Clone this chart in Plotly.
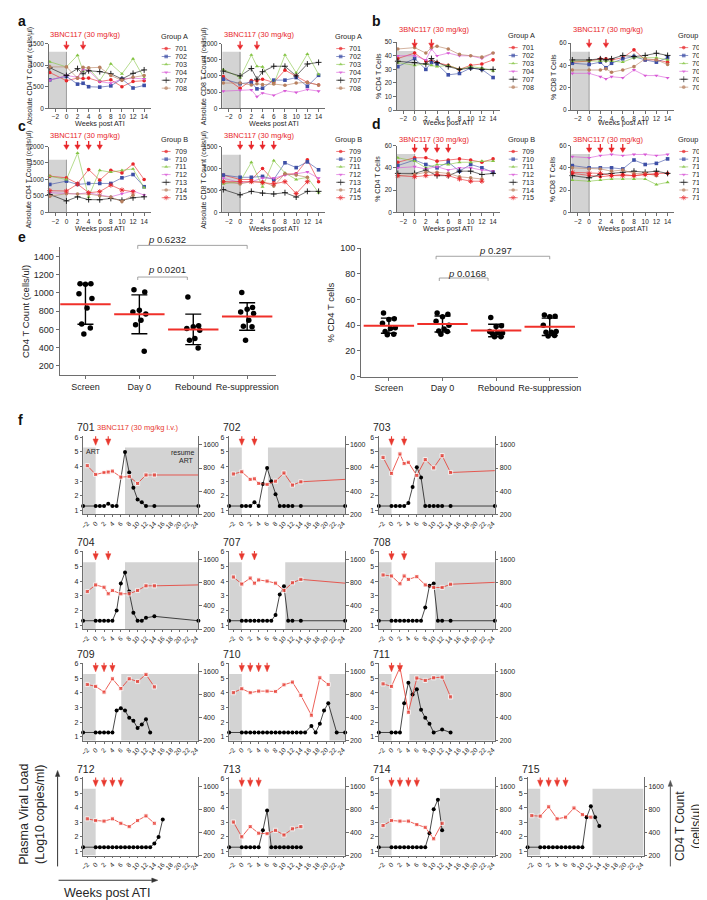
import math
import statistics
import plotly.graph_objects as go

W, H = 707, 900
FONT = "Arial, 'Liberation Sans', Helvetica, sans-serif"
RED = "#e8262a"
FRED = "#e8392f"
GRAY_FILL = "#d3d3d3"
AXC = "#6e6e6e"
TXT = "#262626"

# ---------------- data: panels a-d ----------------
WEEKS_A = [-3, 0, 2, 3, 4, 6, 8, 10, 12, 14]
WEEKS_B = [-3, 0, 2, 4, 6, 8, 10, 12, 14]
GROUP_A = ["701", "702", "703", "704", "707", "708"]
GROUP_B = ["709", "710", "711", "712", "713", "714", "715"]
DOSE_A = [0, 3]
DOSE_B = [0, 2, 4, 6]
TICKS_WEEKS = [-2, 0, 2, 4, 6, 8, 10, 12, 14]

CD4_ABS_A = {
    "701": [830, 640, 700, 690, 700, 620, 660, 500, 620, 640],
    "702": [660, 740, 560, 580, 500, 490, 520, 680, 470, 530],
    "703": [1080, 960, 1230, 870, 930, 640, 1030, 800, 1150, 700],
    "704": [650, 760, 720, 900, 880, 620, 580, 680, 700, 680],
    "707": [940, 760, 920, 800, 870, 850, 800, 680, 810, 890],
    "708": [960, 960, 700, 950, 940, 950, 760, 650, 720, 760],
}
CD8_ABS_A = {
    "701": [980, 620, 860, 850, 900, 800, 1180, 1000, 800, 720],
    "702": [900, 760, 800, 600, 620, 870, 870, 950, 680, 1020],
    "703": [1200, 950, 1650, 1300, 1280, 750, 1650, 1100, 1680, 1050],
    "704": [530, 560, 570, 360, 470, 400, 540, 490, 580, 530],
    "707": [1150, 1000, 1230, 900, 1130, 1300, 1300, 1000, 1370, 1420],
    "708": [780, 780, 720, 760, 730, 750, 710, 780, 800, 720],
}
PCT_CD4_A = {
    "701": [38, 42, 36, 36, 35, 33, 30, 33, 34, 37],
    "702": [32, 38, 30, 35, 34, 26, 27, 31, 30, 24],
    "703": [35, 33, 34, 33, 32, 33, 30, 32, 31, 29],
    "704": [40, 40, 37, 45, 40, 42, 40, 40, 38, 42],
    "707": [36, 35, 34, 38, 35, 32, 30, 31, 30, 30],
    "708": [45, 46, 42, 46, 47, 45, 41, 40, 39, 42],
}
PCT_CD8_A = {
    "701": [43, 44, 46, 46, 45, 47, 54, 45, 45, 43],
    "702": [42, 41, 43, 38, 42, 46, 48, 45, 43, 47],
    "703": [44, 44, 44, 44, 44, 43, 47, 47, 47, 45],
    "704": [33, 33, 30, 28, 30, 29, 36, 31, 31, 29],
    "707": [45, 45, 46, 45, 46, 49, 48, 49, 51, 49],
    "708": [36, 36, 36, 37, 34, 36, 39, 46, 45, 41],
}
CD4_ABS_B = {
    "709": [1100, 1050, 880, 1300, 980, 1280, 1200, 1470, 1000],
    "710": [850, 950, 850, 880, 880, 880, 1050, 1150, 780],
    "711": [1100, 1000, 1800, 470, 1280, 1220, 1280, 1320, 750],
    "712": [600, 570, 560, 600, 525, 475, 570, 655, 525],
    "713": [545, 350, 475, 390, 385, 425, 370, 445, 475],
    "714": [490, 570, 560, 560, 505, 465, 330, 525, None],
    "715": [660, 650, 860, 600, 630, 830, 680, 630, None],
}
CD8_ABS_B = {
    "709": [850, 750, 750, 1000, 720, 870, 880, 1200, 700],
    "710": [850, 800, 800, 820, 750, 1130, 1020, 1150, 970],
    "711": [650, 700, 1140, 580, 1180, 900, 750, 800, 450],
    "712": [780, 680, 700, 780, 780, 850, 880, 920, 780],
    "713": [520, 400, 480, 440, 420, 450, 350, 480, 480],
    "714": [700, 650, 700, 700, 600, 880, 850, 800, None],
    "715": [700, 700, 700, 680, 650, 700, 430, 700, None],
}
PCT_CD4_B = {
    "709": [45, 49, 49, 46, 47, 48, 47, 45, 48],
    "710": [42, 47, 43, 40, 45, 37, 43, 40, 36],
    "711": [49, 46, 40, 43, 43, 45, 45, 46, 46],
    "712": [40, 41, 39, 41, 38, 40, 40, 38, 37],
    "713": [35, 35, 38, 33, 33, 37, 37, 34, 35],
    "714": [33, 34, 36, 36, 35, 32, 31, 30, None],
    "715": [33, 32, 33, 34, 33, 30, 28, 28, None],
}
PCT_CD8_B = {
    "709": [35, 33, 32, 33, 34, 33, 34, 35, 35],
    "710": [42, 40, 40, 40, 39, 47, 43, 44, 48],
    "711": [29, 28, 29, 30, 30, 30, 30, 25, 27],
    "712": [50, 49, 51, 52, 51, 52, 52, 51, 52],
    "713": [33, 31, 34, 35, 36, 37, 36, 37, 35],
    "714": [40, 39, 39, 37, 38, 35, 35, 33, None],
    "715": [36, 35, 35, 33, 33, 33, 34, 34, None],
}

# ---------------- data: panel e ----------------
E_CATS = ["Screen", "Day 0", "Rebound", "Re-suppression"]
E_CD4_ABS = {
    "Screen": [1100, 1100, 1095, 990, 940, 835, 660, 615, 550],
    "Day 0": [1035, 1010, 810, 790, 770, 700, 650, 360],
    "Rebound": [955, 640, 630, 610, 590, 500, 480, 395],
    "Re-suppression": [1005, 840, 820, 790, 775, 700, 635, 630, 480],
}
E_CD4_PCT = {
    "Screen": [49.5, 45, 44.5, 41.5, 38, 37.5, 35, 33, 32.5],
    "Day 0": [49.5, 48.5, 46.5, 43, 40, 37, 35.5, 35, 33],
    "Rebound": [46, 39.5, 39, 35, 34, 34, 33.5, 31, 31],
    "Re-suppression": [48, 47, 46.5, 40, 35, 34.5, 34.5, 32, 31.5],
}
E_P_LEFT = ["0.6232", "0.0201"]
E_P_RIGHT = ["0.297", "0.0168"]

# ---------------- data: panel f ----------------
F_ORDER = ["701", "702", "703", "704", "707", "708", "709", "710", "711",
           "712", "713", "714", "715"]
F_VL_WEEKS = {
    "701": [-3, 0, 1, 2, 3, 4, 5, 7, 8, 9, 10, 11, 12, 14, 24.5],
    "702": [-3, 0, 1, 2, 3, 4, 5, 6, 7, 8, 9, 10, 11, 12, 14, 24.5],
    "703": [-3, 0, 1, 2, 3, 4, 5, 6, 7, 8, 9, 10, 11, 12, 14, 24.5],
    "704": [-3, 0, 1, 2, 3, 4, 5, 6, 7, 8, 9, 10, 11, 12, 14, 24.5],
    "707": [-3, 0, 1, 2, 3, 4, 5, 6, 7, 8, 9, 10, 11, 12, 14, 24.5],
    "708": [-3, 0, 1, 2, 3, 4, 5, 6, 7, 8, 9, 10, 11, 12, 14, 24.5],
    "709": [-3, 0, 1, 2, 3, 4, 5, 6, 7, 8, 9, 10, 11, 12, 13],
    "710": [-3, 0, 1, 2, 3, 4, 5, 6, 7, 8, 9, 10, 11, 12, 13, 14, 15,
            16.5, 17.5, 18.5, 19.5, 20.5, 22.5, 24.5],
    "711": [-3, 0, 1, 2, 3, 4, 5, 6, 7, 8, 9, 10, 12, 14],
    "712": [-3, 0, 1, 2, 3, 4, 5, 6, 7, 8, 9, 10, 11, 12, 13, 14, 15, 16],
    "713": [-3, 0, 1, 2, 3, 4, 5, 6, 7, 8, 9, 10, 11, 12, 13, 14],
    "714": [-3, 0, 1, 2, 3, 4, 5, 6, 7, 8, 9, 10, 11, 12],
    "715": [-3, 0, 1, 2, 3, 4, 5, 6, 7, 8, 9, 10, 11, 12, 13, 14],
}
F_VL = {
    "701": [1.3, 1.3, 1.3, 1.3, 1.45, 1.3, 1.3, 5.0, 3.6, 2.55, 1.75, 1.55, 1.3, 1.3, 1.3],
    "702": [1.3, 1.3, 1.3, 1.3, 1.55, 1.3, 2.8, 3.9, 3.0, 2.1, 1.3, 1.3, 1.3, 1.3, 1.3, 1.3],
    "703": [1.3, 1.3, 1.3, 1.3, 1.3, 1.5, 2.6, 3.95, 3.25, 1.3, 1.3, 1.3, 1.3, 1.3, 1.3, 1.3],
    "704": [1.3, 1.3, 1.3, 1.3, 1.3, 1.3, 2.0, 3.85, 4.6, 3.3, 1.85, 1.3, 1.3, 1.5, 1.6, 1.3],
    "707": [1.3, 1.3, 1.3, 1.3, 1.3, 1.3, 1.3, 1.3, 1.3, 1.7, 3.1, 3.65, 1.3, 1.3, 1.3, 1.3],
    "708": [1.3, 1.3, 1.3, 1.3, 1.3, 1.3, 1.3, 1.3, 1.3, 2.2, 3.7, 3.85, 1.3, 1.3, 1.3, 1.3],
    "709": [1.3, 1.3, 1.3, 1.3, 1.3, 1.3, 2.8, 2.95, 2.8, 2.3, 2.1, 1.6, 1.85, 2.2, 1.3],
    "710": [1.3, 1.3, 1.3, 1.3, 1.3, 1.3, 1.3, 1.3, 1.3, 1.3, 1.3, 1.3, 1.3, 1.3, 1.3, 1.3, 1.3,
            1.75, 1.3, 1.9, 2.8, 3.3, 1.3, 1.3],
    "711": [1.3, 1.3, 1.3, 1.3, 3.3, 4.7, 3.9, 4.25, 2.85, 2.3, 1.9, 1.3, 1.5, 1.3],
    "712": [1.3, 1.3, 1.3, 1.3, 1.3, 1.3, 1.3, 1.3, 1.3, 1.3, 1.3, 1.3, 1.3, 1.3, 1.3,
            1.55, 2.0, 3.2],
    "713": [1.3, 1.3, 1.3, 1.3, 1.3, 1.3, 2.45, 3.8, 1.3, 1.3, 1.3, 1.3, 1.3, 1.3, 1.3, 1.3],
    "714": [1.3, 1.3, 1.3, 1.3, 1.3, 1.3, 1.3, 1.3, 1.3, 1.3, 2.25, 3.9, 4.55, 2.45],
    "715": [1.3, 1.3, 1.3, 1.3, 1.3, 1.3, 1.3, 1.3, 1.3, 1.3, 1.3, 1.3, 3.35, 4.1, 3.35, 2.75],
}
F_CD4_WEEKS = {
    "701": [-2, 0, 2, 3, 4, 6, 8, 10, 12, 14, 24.5],
    "702": [-2, 0, 2, 3, 4, 6, 8, 10, 12, 14, 24.5],
    "703": [-2, 0, 2, 3, 4, 6, 8, 10, 12, 14, 24.5],
    "704": [-2, 0, 2, 3, 4, 6, 8, 10, 12, 14, 24.5],
    "707": [-2, 0, 2, 3, 4, 6, 8, 10, 12, 14, 24.5],
    "708": [-2, 0, 2, 3, 4, 6, 8, 10, 12, 14, 24.5],
    "709": [-2, 0, 2, 4, 6, 8, 10, 12, 14],
    "710": [-2, 0, 2, 4, 6, 8, 10, 12, 14, 16.5, 18.5, 20.5],
    "711": [-2, 0, 2, 4, 6, 8, 10, 12, 14],
    "712": [-2, 0, 2, 4, 6, 8, 10, 12, 14],
    "713": [-2, 0, 2, 4, 6, 8, 10, 12, 14],
    "714": [-2, 0, 2, 4, 6, 8, 10, 12],
    "715": [-2, 0, 2, 4, 6, 8, 10, 12],
}
F_CD4 = {
    "701": [860, 660, 700, 710, 730, 610, 620, 505, 650, 650, 650],
    "702": [670, 715, 570, 580, 505, 490, 540, 690, 480, 530, 570],
    "703": [1100, 680, 1220, 915, 950, 640, 1030, 805, 1160, 700, 740],
    "704": [615, 750, 700, 575, 635, 575, 575, 635, 730, 730, 750],
    "707": [950, 770, 920, 790, 870, 840, 790, 635, 800, 885, 790],
    "708": [1010, 980, 775, 980, 885, 960, 750, 695, 695, 765, 810],
    "709": [1080, 1020, 860, 1280, 955, 1280, 1180, 1460, 1005],
    "710": [845, 950, 845, 885, 885, 875, 1070, 1160, 780, 430, 1320, 1080],
    "711": [1100, 1020, 1800, 470, 1310, 1220, 1320, 1345, 745],
    "712": [600, 570, 560, 600, 525, 475, 570, 655, 525],
    "713": [545, 350, 475, 390, 385, 425, 370, 445, 475],
    "714": [490, 570, 560, 560, 505, 465, 330, 525],
    "715": [660, 650, 860, 600, 630, 830, 680, 630],
}
F_DOSES = {
    "701": [0, 3], "702": [0, 3], "703": [0, 3], "704": [0, 3], "707": [0, 3], "708": [0, 3],
    "709": [0, 2, 4], "710": [0, 2, 4, 6], "711": [0, 2], "712": [0, 2, 4, 6],
    "713": [0, 2, 4], "714": [0, 2, 4, 6], "715": [0, 2, 4, 6],
}
F_RESUME = {
    "701": 7.0, "702": 6.2, "703": 6.1, "704": 7.0, "707": 10.3, "708": 10.3,
    "709": 6.1, "710": 20.8, "711": 4.25, "712": None, "713": 6.3, "714": 11.5, "715": 12.4,
}
F_X_TICKS = list(range(-2, 25, 2))
F_VL_TICKS = [1, 2, 3, 4, 5, 6]
F_CD4_TICKS = [200, 400, 800, 1600]

# ---------------- styles ----------------
STYLE = {
    "701": (RED, "circle"), "702": ("#3d4fa6", "square"), "703": ("#84c443", "triangle-up"),
    "704": ("#d858d6", "triangle-down"), "707": ("#111111", "cross-thin"), "708": ("#b7805f", "circle"),
    "709": (RED, "circle"), "710": ("#3d4fa6", "square"), "711": ("#84c443", "triangle-up"),
    "712": ("#d858d6", "triangle-down"), "713": ("#111111", "cross-thin"), "714": ("#b7805f", "circle"),
    "715": (RED, "asterisk"),
}
THIN = {"cross-thin", "asterisk"}

layout = dict(width=W, height=H, margin=dict(l=0, r=0, t=0, b=0, pad=0),
              paper_bgcolor="white", plot_bgcolor="rgba(0,0,0,0)", showlegend=False,
              font=dict(family=FONT, color=TXT, size=8))
traces, shapes, annots = [], [], []
counter = {"x": 0, "y": 0}


def px_x(p):
    return p / W


def px_y(p):
    return 1 - p / H


def ref(kind, n):
    return kind if n == 1 else f"{kind}{n}"


def new_axis(kind, props):
    counter[kind] += 1
    n = counter[kind]
    layout[f"{kind}axis" + ("" if n == 1 else str(n))] = props
    return ref(kind, n)


def make_pair(xprops, yprops):
    xr = ref("x", counter["x"] + 1)
    yr = ref("y", counter["y"] + 1)
    xprops["anchor"] = yr
    yprops["anchor"] = xr
    new_axis("x", xprops)
    new_axis("y", yprops)
    return xr, yr


def axis_style(size=6.5, **kw):
    d = dict(showgrid=False, zeroline=False, showline=True, linecolor=AXC, linewidth=0.8,
             ticks="outside", ticklen=2.5, tickwidth=0.8, tickcolor=AXC,
             tickfont=dict(size=size, family=FONT, color=TXT), fixedrange=True,
             layer="above traces")
    d.update(kw)
    return d


def text(t, x, y, size=8, color=TXT, xanchor="center", yanchor="middle", angle=0):
    annots.append(dict(text=t, x=px_x(x), y=px_y(y), xref="paper", yref="paper",
                       showarrow=False, xanchor=xanchor, yanchor=yanchor, textangle=angle,
                       borderpad=0, font=dict(size=size, color=color, family=FONT)))


def down_arrow(xref, yref, x, y_tail, y_base, y_tip, half_w, color, width=1.2):
    shapes.append(dict(type="line", xref=xref, yref=yref, x0=x, x1=x, y0=y_tail, y1=y_base,
                       line=dict(color=color, width=width)))
    shapes.append(dict(type="path", xref=xref, yref=yref,
                       path=f"M {x - half_w},{y_base} L {x + half_w},{y_base} L {x},{y_tip} Z",
                       fillcolor=color, line=dict(color=color, width=0.5)))


def marker_for(sid, size=3.6):
    col, sym = STYLE[sid]
    return dict(color=col, symbol=sym, size=size + (0.6 if sym in THIN else 0),
                line=dict(color=col, width=0.9 if sym in THIN else 0))


legend_glyphs = []  # (x, y, sid) in pixel space


def ts_panel(xdom, ydom, yrange, ydtick, weeks, data, ids, doses, gray_frac,
             label_y, tip_y, ytitle, ytitle_x, xtitle_y, leg_title, leg_x, leg_title_y,
             leg_y0, leg_dy):
    xr, yr = make_pair(
        axis_style(domain=[px_x(xdom[0]), px_x(xdom[1])], range=[-3.2, 15.2],
                   tickvals=TICKS_WEEKS),
        axis_style(domain=[px_y(ydom[1]), px_y(ydom[0])], range=list(yrange),
                   tick0=0, dtick=ydtick))
    shapes.append(dict(type="rect", xref=xr, yref=yr + " domain", x0=-3.2, x1=0, y0=0,
                       y1=gray_frac, fillcolor=GRAY_FILL, line=dict(width=0), layer="below"))
    shapes.append(dict(type="line", xref=xr, yref=yr + " domain", x0=0, x1=0, y0=0,
                       y1=gray_frac, line=dict(color="#8a8a8a", width=0.8), layer="below"))
    for sid in ids:
        col, sym = STYLE[sid]
        traces.append(go.Scatter(x=weeks, y=data[sid], xaxis=xr, yaxis=yr,
                                 mode="lines+markers", line=dict(color=col, width=0.6),
                                 marker=marker_for(sid), cliponaxis=False, hoverinfo="skip"))
    # dosing
    annots.append(dict(text="3BNC117 (30 mg/kg)", x=3.4, xref=xr, y=px_y(label_y), yref="paper",
                       xanchor="center", yanchor="middle", showarrow=False, borderpad=0,
                       font=dict(size=7.5, color=RED, family=FONT)))
    ppw = (xdom[1] - xdom[0]) / 18.4
    for d in doses:
        down_arrow(xr, "paper", d, px_y(tip_y - 8.5), px_y(tip_y - 4.5), px_y(tip_y),
                   2.7 / ppw, RED, 1.3)
    text(ytitle, ytitle_x, (ydom[0] + ydom[1]) / 2, size=7, angle=-90)
    text("Weeks post ATI", (xdom[0] + xdom[1]) / 2, xtitle_y, size=7.2)
    # legend
    text(leg_title, leg_x, leg_title_y, size=7.3, xanchor="left")
    for i, sid in enumerate(ids):
        yy = leg_y0 + i * leg_dy
        legend_glyphs.append((leg_x + 6.5, yy, sid))
        text(sid, leg_x + 14, yy, size=7.2, xanchor="left")


# ---- panels a & b (group A) ----
ts_panel((38, 141), (31, 96.3), (0, 1500), 500, WEEKS_A, CD4_ABS_A, GROUP_A, DOSE_A, 0.873,
         22, 37, "Absolute CD4 T Count (cells/µl)", 19, 112, "Group A", 150, 24, 36, 8)
ts_panel((213, 317), (31, 96.3), (0, 2000), 500, WEEKS_A, CD8_ABS_A, GROUP_A, DOSE_A, 0.873,
         22, 37, "Absolute CD8 T Count (cells/µl)", 195, 112, "Group A", 326, 24, 36, 8)
ts_panel((389, 493), (29.5, 98.3), (0, 50), 10, WEEKS_A, PCT_CD4_A, GROUP_A, DOSE_A, 0.872,
         17, 35, "% CD4 T Cells", 370, 110.5, "Group A", 500, 23, 35, 8)
ts_panel((565, 669), (30.5, 98.3), (0, 60), 20, WEEKS_A, PCT_CD8_A, GROUP_A, DOSE_A, 0.872,
         17, 35, "% CD8 T Cells", 547, 110.5, "Group A", 672, 23, 35, 8)
# ---- panels c & d (group B) ----
ts_panel((38, 141), (135, 201.7), (0, 2000), 500, WEEKS_B, CD4_ABS_B, GROUP_B, DOSE_B, 0.80,
         124, 138, "Absolute CD4 T Count (cells/µl)", 19, 218, "Group B", 150, 128, 140, 7.8)
ts_panel((213, 317), (135, 201.7), (0, 1500), 500, WEEKS_B, CD8_ABS_B, GROUP_B, DOSE_B, 0.875,
         124, 138, "Absolute CD8 T Count (cells/µl)", 195, 218, "Group B", 326, 128, 140, 7.8)
ts_panel((389, 493), (134, 201.7), (0, 60), 20, WEEKS_B, PCT_CD4_B, GROUP_B, DOSE_B, 0.875,
         127.5, 141, "% CD4 T Cells", 370, 218, "Group B", 500, 128, 140, 7.8)
ts_panel((565, 669), (134, 201.7), (0, 60), 20, WEEKS_B, PCT_CD8_B, GROUP_B, DOSE_B, 0.875,
         127.5, 141, "% CD8 T Cells", 547, 218, "Group B", 672, 128, 140, 7.8)

# ---------------- panel e ----------------
JITTER = [-0.1, 0.1, 0.0, -0.12, 0.12, 0.03, -0.07, 0.09, -0.03]


def dot_panel(xdom, ydom, xrange, yrange, ytickvals, data, ytitle, ytitle_x):
    xr, yr = make_pair(
        axis_style(size=9, domain=[px_x(xdom[0]), px_x(xdom[1])], range=list(xrange),
                   tickvals=[0, 1, 2, 3], ticktext=E_CATS, ticklen=3),
        axis_style(size=9, domain=[px_y(ydom[1]), px_y(ydom[0])], range=list(yrange),
                   tickvals=ytickvals, ticklen=3))
    for i, cat in enumerate(E_CATS):
        vals = data[cat]
        xs = [i + JITTER[k % len(JITTER)] for k in range(len(vals))]
        traces.append(go.Scatter(x=xs, y=vals, xaxis=xr, yaxis=yr, mode="markers",
                                 marker=dict(color="black", size=5.5), cliponaxis=False,
                                 hoverinfo="skip"))
        m = statistics.mean(vals)
        sd = statistics.stdev(vals)
        traces.append(go.Scatter(x=[i], y=[m], xaxis=xr, yaxis=yr, mode="markers",
                                 marker=dict(size=0.1, color="black"),
                                 error_y=dict(type="data", array=[sd], visible=True,
                                              color="black", thickness=1.4, width=8),
                                 hoverinfo="skip"))
        traces.append(go.Scatter(x=[i], y=[m], xaxis=xr, yaxis=yr, mode="markers",
                                 marker=dict(symbol="line-ew", size=36,
                                             line=dict(color="#f0302a", width=2)),
                                 hoverinfo="skip"))
    text(ytitle, ytitle_x, (ydom[0] + ydom[1]) / 2, size=9.5, angle=-90)
    return xr


def bracket(xr, x0, x1, y, drop):
    shapes.append(dict(type="path", xref=xr, yref="paper",
                       path=f"M {x0},{px_y(y + drop)} L {x0},{px_y(y)} L {x1},{px_y(y)} L {x1},{px_y(y + drop)}",
                       line=dict(color="#8c8c8c", width=0.8)))


xe1 = dot_panel((49, 267), (237, 366), (-0.48, 3.53), (100, 1500), list(range(200, 1401, 200)),
                E_CD4_ABS, "CD4 T Count (cells/ul)", 14)
bracket(xe1, 0.97, 3.0, 235, 3.5)
bracket(xe1, 0.97, 1.89, 267, 3)
text("<i>p</i> " + E_P_LEFT[0], 157, 229, size=9.5)
text("<i>p</i> " + E_P_LEFT[1], 157, 259, size=9.5)

xe2 = dot_panel((353, 572), (237.7, 367.7), (-0.52, 3.53), (0, 100), list(range(0, 101, 20)),
                E_CD4_PCT, "% CD4 T cells", 322)
bracket(xe2, 0.88, 3.0, 246, 3)
bracket(xe2, 0.94, 1.85, 268, 3)
text("<i>p</i> " + E_P_RIGHT[0], 489, 240, size=9.5)
text("<i>p</i> " + E_P_RIGHT[1], 460, 263, size=9.5)

# ---------------- panel f ----------------
F_COLS = [(72.7, 189), (220, 337), (371, 488), (521, 638)]
F_ROWS = [507, 623, 736, 852]
F_POS = {"701": (0, 0), "702": (0, 1), "703": (0, 2), "704": (1, 0), "707": (1, 1),
         "708": (1, 2), "709": (2, 0), "710": (2, 1), "711": (2, 2), "712": (3, 0),
         "713": (3, 1), "714": (3, 2), "715": (3, 3)}
PLOT_H = 79
VL_RANGE = [0.73, 6.07]
CD4_LOG_RANGE = [math.log10(200), math.log10(200) + PLOT_H / 77.8]
XMAX = 24.5

for sid in F_ORDER:
    r, c = F_POS[sid]
    c0, c1 = F_COLS[c]
    bot = F_ROWS[r]
    top = bot - PLOT_H
    xr, yr = make_pair(
        axis_style(size=6.5, domain=[px_x(c0), px_x(c1)], range=[-3, XMAX],
                   tickvals=F_X_TICKS, tickangle=-45, ticklen=2),
        axis_style(size=7, domain=[px_y(bot), px_y(top)], range=VL_RANGE,
                   tickvals=F_VL_TICKS, ticklen=2.5))
    yr2 = new_axis("y", axis_style(size=7, overlaying=yr, side="right", anchor=xr, type="log",
                                   range=CD4_LOG_RANGE, tickvals=F_CD4_TICKS, ticklen=2.5))
    shapes.append(dict(type="rect", xref=xr, yref=yr, x0=-3, x1=0, y0=VL_RANGE[0], y1=5.3,
                       fillcolor=GRAY_FILL, line=dict(width=0), layer="below"))
    if F_RESUME[sid] is not None:
        shapes.append(dict(type="rect", xref=xr, yref=yr, x0=F_RESUME[sid], x1=XMAX,
                           y0=VL_RANGE[0], y1=5.3, fillcolor=GRAY_FILL, line=dict(width=0),
                           layer="below"))
    vl_w, vl = F_VL_WEEKS[sid], F_VL[sid]
    traces.append(go.Scatter(x=vl_w, y=vl, xaxis=xr, yaxis=yr, mode="lines+markers",
                             line=dict(color="#1a1a1a", width=0.8),
                             marker=dict(color="black", size=4), cliponaxis=False,
                             hoverinfo="skip"))
    cw, cv = F_CD4_WEEKS[sid], F_CD4[sid]
    sizes = [4.2 if w < XMAX else 0 for w in cw]
    traces.append(go.Scatter(x=cw, y=cv, xaxis=xr, yaxis=yr2, mode="lines+markers",
                             line=dict(color=FRED, width=0.8),
                             marker=dict(color=FRED, size=sizes, symbol="square"),
                             cliponaxis=False, hoverinfo="skip"))
    for d in F_DOSES[sid]:
        down_arrow(xr, yr, d, 6.42, 5.88, 5.45, 0.62, FRED, 1.1)
    text(sid, c0 - 7, top - 9, size=10.5, xanchor="left")

text("3BNC117 (30 mg/kg i.v.)", 86, 419, size=7.5, color=FRED, xanchor="left")
text("ART", 75, 443, size=7, xanchor="left")
text("resume", 186, 444, size=7, xanchor="right")
text("ART", 186, 453, size=7, xanchor="right")

text("Plasma Viral Load<br>(Log10 copies/ml)", 21, 810, size=12.5, angle=-90)
text("Weeks post ATI", 97, 889.5, size=12.5)
text("CD4 T Count<br>(cells/µl)", 683, 822, size=12, angle=-90)

# large axis arrows for panel f (paper space)
PAPER = "paper"
shapes.append(dict(type="line", xref=PAPER, yref=PAPER, x0=px_x(47), x1=px_x(47),
                   y0=px_y(863), y1=px_y(772), line=dict(color="#333", width=1)))
shapes.append(dict(type="path", xref=PAPER, yref=PAPER,
                   path=f"M {px_x(44.8)},{px_y(772)} L {px_x(49.2)},{px_y(772)} L {px_x(47)},{px_y(766)} Z",
                   fillcolor="#333", line=dict(color="#333", width=0.5)))
shapes.append(dict(type="line", xref=PAPER, yref=PAPER, x0=px_x(48), x1=px_x(142),
                   y0=px_y(877), y1=px_y(877), line=dict(color="#333", width=1)))
shapes.append(dict(type="path", xref=PAPER, yref=PAPER,
                   path=f"M {px_x(142)},{px_y(874.8)} L {px_x(142)},{px_y(879.2)} L {px_x(148)},{px_y(877)} Z",
                   fillcolor="#333", line=dict(color="#333", width=0.5)))
shapes.append(dict(type="line", xref=PAPER, yref=PAPER, x0=px_x(665), x1=px_x(665),
                   y0=px_y(863), y1=px_y(782), line=dict(color="#555", width=1)))
shapes.append(dict(type="path", xref=PAPER, yref=PAPER,
                   path=f"M {px_x(662.8)},{px_y(782)} L {px_x(667.2)},{px_y(782)} L {px_x(665)},{px_y(776)} Z",
                   fillcolor="#555", line=dict(color="#555", width=0.5)))

# panel letters
for letter, lx, ly in [("a", 5, 8), ("b", 362, 8), ("c", 5, 114), ("d", 362, 112),
                       ("e", 5, 227), ("f", 5, 412)]:
    annots.append(dict(text=f"<b>{letter}</b>", x=px_x(lx), y=px_y(ly), xref="paper",
                       yref="paper", showarrow=False, xanchor="left", yanchor="middle",
                       font=dict(size=14, family=FONT, color="#111")))

# ---------------- legend glyphs on a pixel-space overlay ----------------
xp, yp = make_pair(dict(domain=[0, 1], range=[0, W], visible=False, fixedrange=True),
                   dict(domain=[0, 1], range=[H, 0], visible=False, fixedrange=True))
for gx, gy, sid in legend_glyphs:
    col, sym = STYLE[sid]
    mk = marker_for(sid)
    mk["size"] = [0, mk["size"], 0]
    traces.append(go.Scatter(x=[gx - 4.5, gx, gx + 4.5], y=[gy, gy, gy], xaxis=xp, yaxis=yp,
                             mode="lines+markers", line=dict(color=col, width=0.6), marker=mk,
                             cliponaxis=False, hoverinfo="skip"))

layout["shapes"] = shapes
layout["annotations"] = annots
fig = go.Figure(data=traces, layout=layout)
fig.write_html("out.html")
